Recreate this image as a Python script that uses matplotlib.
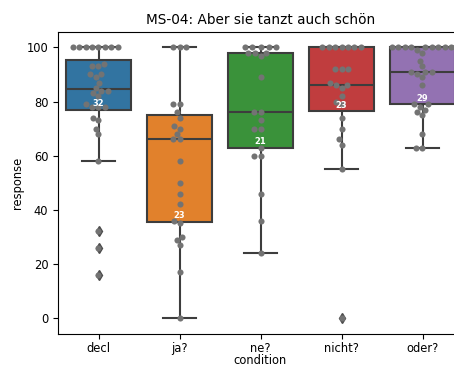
import numpy as np
import pandas as pd
import matplotlib
matplotlib.use("Agg")
import matplotlib.pyplot as plt
import seaborn as sns

# Ratings per condition
conditions = ["decl", "ja?", "ne?", "nicht?", "oder?"]

decl = [100, 100, 100, 100, 100, 100, 100, 100, 94, 93, 93, 90, 89, 90, 87, 85,
        84, 84, 83, 82, 79, 78, 78, 78, 74, 73, 70, 68, 58, 32, 26, 16]
ja = [100, 100, 100, 79, 79, 76, 74, 71, 70, 68, 66, 66, 58, 50, 46, 42,
      36, 35, 30, 29, 27, 17, 0]
ne = [100, 100, 100, 100, 100, 98, 98, 98, 97, 89, 76, 76, 73, 70, 70, 63,
      60, 60, 46, 36, 24]
nicht = [100, 100, 100, 100, 100, 100, 100, 92, 92, 92, 87, 86, 86, 85, 82,
         80, 79, 74, 70, 66, 64, 55, 0]
oder = [100, 100, 100, 100, 100, 100, 100, 100, 100, 100, 99, 98, 95, 93, 91,
        91, 91, 90, 89, 86, 79, 79, 78, 77, 76, 75, 68, 63, 63]

series = [decl, ja, ne, nicht, oder]
df = pd.DataFrame({
    "condition": np.repeat(conditions, [len(s) for s in series]),
    "response": np.concatenate(series).astype(float),
})

W, H, DPI = 454, 367, 100
fig = plt.figure(figsize=(W / DPI, H / DPI), dpi=DPI)
ax = fig.add_axes([58 / W, (H - 333.7) / H, 405 / W, (333.7 - 32) / H])

sns.boxplot(data=df, x="condition", y="response", order=conditions,
            palette=sns.color_palette("tab10", 5), saturation=0.75,
            linewidth=1.5, fliersize=5,
            flierprops=dict(marker="d", markerfacecolor="0.3",
                            markeredgecolor="0.3"),
            ax=ax)
sns.swarmplot(data=df, x="condition", y="response", order=conditions,
              color=".45", size=4.4, ax=ax)

# sample size written just above each lower quartile
for i, s in enumerate(series):
    q1 = np.percentile(s, 25)
    ax.text(i, q1 + 2.2, str(len(s)), ha="center", va="center",
            color="white", fontsize=6, fontweight="semibold")

ax.set_xlim(-0.5, 4.5)
ax.set_ylim(-5.8, 105.7)
ax.set_yticks([0, 20, 40, 60, 80, 100])
ax.tick_params(labelsize=8.3)
ax.tick_params(axis="x", pad=2.5)
ax.set_xlabel("condition", fontsize=8.3, labelpad=-0.5)
ax.set_ylabel("response", fontsize=8.3, labelpad=2)
ax.set_title("MS-04: Aber sie tanzt auch schön", fontsize=9.8)

fig.savefig("out.png", dpi=DPI)
